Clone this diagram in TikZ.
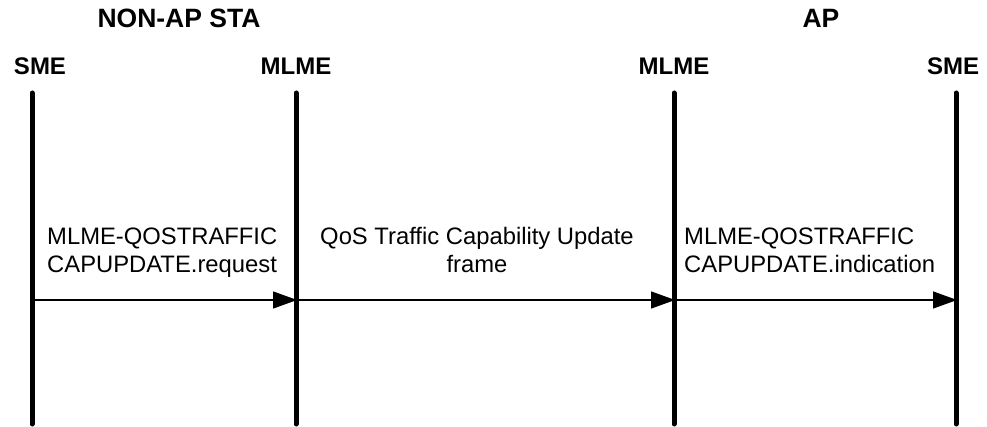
\documentclass[tikz,border=0pt]{standalone}
\usepackage{fontspec}
\setmainfont{Liberation Sans}
\usetikzlibrary{arrows.meta}
\tikzset{
  lifeline/.style={line width=5pt, line cap=round},
  msg/.style={line width=1.3pt, -{Triangle[length=24pt, width=17pt]}, shorten >=-1pt},
  hdr/.style={font=\fontsize{24}{28}\selectfont\bfseries, inner sep=0pt, anchor=base},
  grp/.style={font=\fontsize{26.5}{30}\selectfont\bfseries, inner sep=0pt, anchor=base},
  lbl/.style={font=\fontsize{23.8}{28}\selectfont, inner sep=0pt, align=left}
}
\begin{document}
\begin{tikzpicture}[x=1pt, y=-1pt]
  \useasboundingbox (0,0) rectangle (987,427);
  % group headers
  \node[grp] (sta) at (179,28) {NON-AP STA};
  \node[grp] (ap) at (821,28) {AP};
  % entity headers
  \node[hdr] (sme1) at (40,75) {SME};
  \node[hdr] (mlme1) at (296,75) {MLME};
  \node[hdr] (mlme2) at (674,75) {MLME};
  \node[hdr] (sme2) at (953,75) {SME};
  % lifelines
  \coordinate (t1) at (32,93);   \coordinate (b1) at (32,424);
  \coordinate (t2) at (296,93);  \coordinate (b2) at (296,424);
  \coordinate (t3) at (674,93);  \coordinate (b3) at (674,424);
  \coordinate (t4) at (956,93);  \coordinate (b4) at (956,424);
  \draw[lifeline] (t1) -- (b1);
  \draw[lifeline] (t2) -- (b2);
  \draw[lifeline] (t3) -- (b3);
  \draw[lifeline] (t4) -- (b4);
  % message points
  \coordinate (m1) at (32,300);
  \coordinate (m2) at (296,300);
  \coordinate (m3) at (674,300);
  \coordinate (m4) at (956,300);
  \draw[msg] (m1) -- (m2);
  \draw[msg] (m2) -- (m3);
  \draw[msg] (m3) -- (m4);
  % labels (base anchor = baseline of the last line)
  \node[lbl, anchor=base west] (l1) at (47,273) {MLME-QOSTRAFFIC\\CAPUPDATE.request};
  \node[lbl, align=center, anchor=base] (l2) at (477,273) {QoS Traffic Capability Update\\frame};
  \node[lbl, anchor=base west] (l3) at (684,273) {MLME-QOSTRAFFIC\\CAPUPDATE.indication};
\end{tikzpicture}
\end{document}
